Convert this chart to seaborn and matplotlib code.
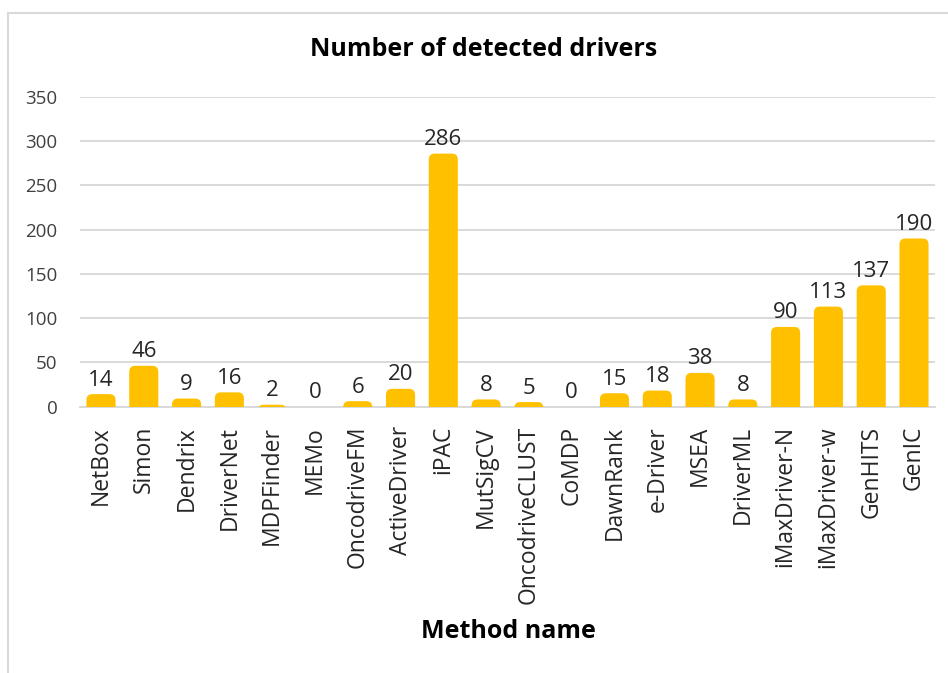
import matplotlib
matplotlib.use("Agg")
import matplotlib.pyplot as plt
from matplotlib.patches import FancyBboxPatch
from matplotlib.lines import Line2D
import seaborn as sns
import pandas as pd

# Detected drivers per method
methods = ["NetBox", "Simon", "Dendrix", "DriverNet", "MDPFinder", "MEMo",
           "OncodriveFM", "ActiveDriver", "iPAC", "MutSigCV", "OncodriveCLUST",
           "CoMDP", "DawnRank", "e-Driver", "MSEA", "DriverML", "iMaxDriver-N",
           "iMaxDriver-w", "GenHITS", "GenIC"]
counts = [14, 46, 9, 16, 2, 0, 6, 20, 286, 8, 5, 0, 15, 18, 38, 8, 90, 113, 137, 190]
y_ticks = [0, 50, 100, 150, 200, 250, 300, 350]

df = pd.DataFrame({"method": methods, "count": counts})

sns.set_theme(style="white")
plt.rcParams["font.family"] = ["Open Sans", "DejaVu Sans"]

W, H = 948, 673
left_px, right_px, top_px, bottom_px = 79.6, 935.4, 97, 406.5
fig = plt.figure(figsize=(W / 100, H / 100), dpi=100)
ax = fig.add_axes([left_px / W, 1 - bottom_px / H,
                   (right_px - left_px) / W, (bottom_px - top_px) / H])

bar_color = "#FFC000"
sns.barplot(data=df, x="method", y="count", color=bar_color, width=0.68,
            saturation=1, ax=ax, zorder=3)

ax.set_xlim(-0.5, len(methods) - 0.5)
ax.set_ylim(0, 350)

# rounded-top bars: swap each rectangle for a rounded box whose bottom is clipped
px_per_x = (right_px - left_px) / len(methods)
px_per_y = (bottom_px - top_px) / 350
r_px = 6.0
r_x = r_px / px_per_x
aspect = (r_px / px_per_y) / r_x
for p in list(ax.patches):
    x0, w, h = p.get_x(), p.get_width(), p.get_height()
    p.remove()
    if h <= 0:
        continue
    rb = FancyBboxPatch((x0, -20), w, h + 20,
                        boxstyle=f"round,pad=0,rounding_size={r_x}",
                        mutation_aspect=aspect, facecolor=bar_color,
                        edgecolor="none", zorder=3)
    ax.add_patch(rb)

# value labels
for i, v in enumerate(counts):
    ax.text(i, v + 4, str(v), ha="center", va="bottom", fontsize=16,
            color="#262626", zorder=4)

ax.set_yticks(y_ticks)
ax.yaxis.grid(True, color="#d9d9d9", linewidth=1.4, zorder=0)
ax.set_axisbelow(True)
for s in ["top", "right", "left"]:
    ax.spines[s].set_visible(False)
ax.spines["bottom"].set_color("#d9d9d9")
ax.spines["bottom"].set_linewidth(1.4)
ax.spines["bottom"].set_zorder(2)
ax.tick_params(axis="both", length=0)
ax.tick_params(axis="y", labelsize=13.5, labelcolor="#404040", pad=16)
ax.tick_params(axis="x", labelsize=16.5, labelcolor="#262626", pad=14)
for lbl in ax.get_xticklabels():
    lbl.set_rotation(90)
ax.set_ylabel("")
ax.set_xlabel("")

fig.text(508 / W, 1 - 632 / H, "Method name",
         ha="center", va="center", fontsize=18, fontweight="bold", color="#000000")
fig.text(484 / W, 1 - 50 / H, "Number of detected drivers",
         ha="center", va="center", fontsize=18, fontweight="bold", color="#000000")

# chart frame
fig.add_artist(Line2D([7.5 / W, 7.5 / W], [0, 1 - 12.5 / H], transform=fig.transFigure,
                      color="#d9d9d9", linewidth=1.5))
fig.add_artist(Line2D([7.5 / W, 1], [1 - 12.5 / H, 1 - 12.5 / H], transform=fig.transFigure,
                      color="#d9d9d9", linewidth=1.5))

fig.savefig("out.png", dpi=100, facecolor="white")
